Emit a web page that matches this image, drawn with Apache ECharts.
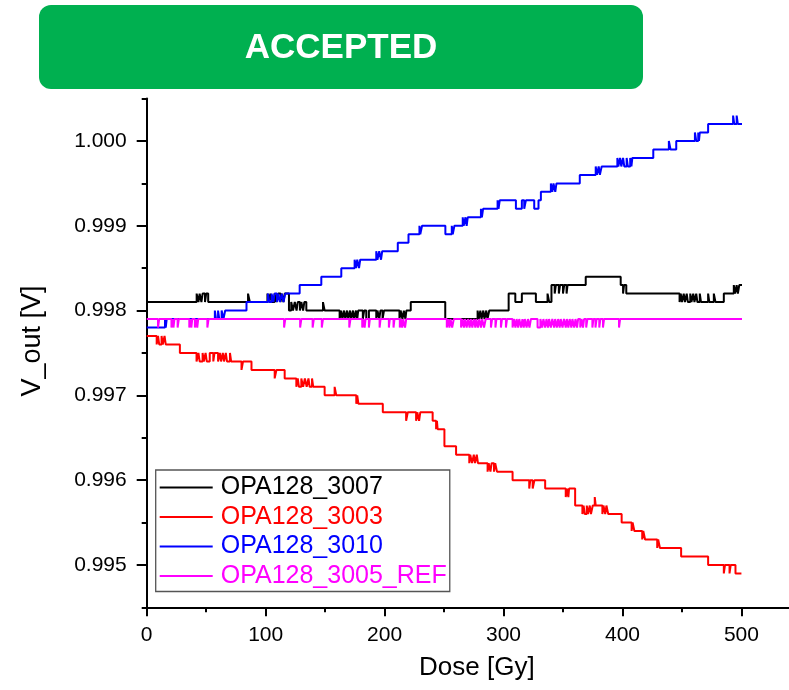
<!DOCTYPE html>
<html>
<head>
<meta charset="utf-8">
<script src="https://cdn.jsdelivr.net/npm/echarts@6/dist/echarts.min.js"></script>
<style>
  html, body { margin: 0; padding: 0; background: #ffffff; }
  #chart { width: 789px; height: 690px; }
</style>
</head>
<body>
<div id="chart"></div>
<script>
// Output voltage of four OPA128 samples versus accumulated dose.
const seriesNames = ['OPA128_3007', 'OPA128_3003', 'OPA128_3010', 'OPA128_3005_REF'];
const seriesColors = ['#000000', '#FF0000', '#0000FF', '#FF00FF'];

const doseTicks = [0, 100, 200, 300, 400, 500];
const doseMinorTicks = [50, 150, 250, 350, 450];
const voltTicks = [0.995, 0.996, 0.997, 0.998, 0.999, 1.000];
const voltMinorTicks = [0.9945, 0.9955, 0.9965, 0.9975, 0.9985, 0.9995, 1.0005];

// [dose (Gy), V_out (V)] — each point is where the reading changes level.
const opa3007 = [
  [0, .9981],
  [42, .9982], [43.5, .9981], [44.5, .9982], [46, .9981], [47, .9982], [49, .9981], [50, .9982], [51.7, .9981],
  [85.2, .9982], [86.7, .9981],
  [101.5, .9982], [102.5, .9981], [104, .9982], [105, .9981], [107.5, .9982], [109, .9981], [110.5, .9982],
  [112.5, .9981], [113.5, .9982], [115, .9981], [116, .9982], [119.6, .9980],
  [121.5, .9981], [123, .9980], [124.5, .9981], [126, .9980], [127, .9981], [128.8, .9980], [130, .9981],
  [131.5, .9980], [132.5, .9981], [134.2, .9980],
  [148.2, .9981], [149.6, .9980],
  [162.2, .9979], [163.5, .9980], [164.5, .9979], [166, .9980], [167, .9979], [168.5, .9980], [169.5, .9979],
  [171, .9980], [172, .9979], [173.5, .9980], [174.5, .9979], [176, .9980], [177, .9979], [177.8, .9980],
  [181.7, .9979], [182.8, .9980], [184.6, .9979], [186.8, .9980],
  [193, .9979], [194, .9980], [195.5, .9979], [196.5, .9980], [198.3, .9979], [199.5, .9980],
  [212.5, .9979], [213.5, .9980], [215, .9979], [216.2, .9980], [217.5, .9979], [218.3, .9980],
  [222, .9981],
  [251, .9979],
  [278.2, .9980], [279.2, .9979], [280.5, .9980], [281.5, .9979], [283, .9980], [284, .9979], [285.5, .9980],
  [286.5, .9979], [288, .9980],
  [304.3, .9982], [309.9, .9981], [315.4, .9982], [327.2, .9981], [337, .9982], [338.4, .9981], [340.3, .9983],
  [343, .9982], [344, .9983], [346.5, .9982], [347.5, .9983], [350, .9982], [351, .9983], [353, .9982], [353.8, .9983],
  [369.1, .9984], [398.5, .9983], [400.5, .9982], [401.3, .9983], [403.2, .9982],
  [448, .9981], [449, .9982], [450, .9981], [451.5, .9982], [452.5, .9981], [454, .9982], [455, .9981],
  [457, .9982], [458, .9981], [459.5, .9982], [460.5, .9981], [462, .9982], [463, .9981], [465, .9982], [466, .9981],
  [472, .9982], [473, .9981], [476.8, .9982], [478.2, .9981], [485.2, .9982],
  [493.6, .9983], [494.6, .9982], [496, .9983], [497, .9982], [498.2, .9983], [500.5, .9983]
];

const opa3003 = [
  [0, .9977],
  [8.4, .9976], [9.5, .9977], [10.5, .9976], [12.5, .9977], [13.5, .9976], [15, .9977], [16, .9976],
  [27.9, .9975],
  [41.9, .9974], [43.5, .9975], [44.5, .9974], [47, .9975], [48, .9974], [49.5, .9975], [50.5, .9974],
  [53, .9975], [56, .9974], [57, .9975], [60, .9974], [61.5, .9975], [62.5, .9974], [64, .9975], [65, .9974],
  [66.5, .9975], [67.5, .9974], [70, .9975], [71, .9974],
  [79.7, .9973], [81, .9974], [88.1, .9973], [107.6, .9972], [109.1, .9973], [116, .9972],
  [125.8, .9971], [127, .9972], [128, .9971], [130, .9972], [131.5, .9971], [133, .9972], [134.5, .9971],
  [136, .9972], [137, .9971], [139, .9972], [140, .9971],
  [149.6, .9970], [158, .9971], [159.4, .9970],
  [176.2, .9969], [177, .9970], [178, .9969],
  [198.5, .9968], [218.1, .9967], [219.5, .9968], [226.5, .9967], [227.5, .9968], [229, .9967], [230, .9968],
  [240.4, .9967], [243.3, .9966], [244, .9967], [244.6, .9966],
  [250.3, .9964], [260.1, .9963],
  [271.2, .9962], [272, .9963], [273.5, .9962], [275, .9963], [276, .9962], [277.5, .9963], [278.5, .9962],
  [286.6, .9961], [287.5, .9962], [289, .9961], [290, .9962], [292, .9961], [293, .9962], [294.5, .9961],
  [307.6, .9960], [321.6, .9959], [322.5, .9960], [324.5, .9959], [326, .9960],
  [335, .9959], [352.3, .9958], [353.5, .9959], [354.5, .9958], [355.1, .9959],
  [360.2, .9957],
  [366.3, .9956], [367.3, .9957], [368.3, .9956], [370, .9957], [371, .9956], [372.5, .9957], [373.5, .9956],
  [375, .9957], [376.7, .9958], [377.5, .9957],
  [383.1, .9956], [384, .9957], [385.5, .9956], [386.5, .9957], [388, .9956],
  [399.3, .9955],
  [407.7, .9954], [408.5, .9955], [410, .9954],
  [416.6, .9953], [417.5, .9954], [419, .9953],
  [429.2, .9952], [430, .9953], [431.5, .9952],
  [449.3, .9951], [472, .9950],
  [485.2, .9949], [486.2, .9950], [490, .9949], [491, .9950], [495, .9949], [500, .9949]
];

const opa3010 = [
  [0, .9978], [15.4, .9979], [16, .9978], [16.8, .9979],
  [57.3, .9980], [58.3, .9979], [60, .9980], [61, .9979], [63, .9980], [64.5, .9979], [66, .9980],
  [83.9, .9981],
  [102, .9982], [103, .9981], [105, .9982], [106.5, .9981], [107.5, .9982], [109.5, .9981], [110.5, .9982],
  [112, .9981], [113.5, .9982], [115, .9981], [116.5, .9982],
  [128.6, .9983], [146.8, .9984], [163.6, .9985],
  [174.8, .9986], [176, .9985], [177, .9986], [178.5, .9985], [179.5, .9986],
  [193, .9987], [194, .9986], [195.5, .9987], [197, .9986], [198, .9987],
  [211.1, .9988], [220.1, .9989],
  [229.3, .9990], [230, .9989], [231.5, .9990],
  [251.1, .9989], [256.5, .9990], [257.3, .9989], [258.7, .9990],
  [265.7, .9991], [266.5, .9990], [268, .9991], [269, .9990], [269.9, .9991],
  [281, .9992], [281.8, .9991], [282.8, .9992],
  [295, .9993], [295.8, .9992], [296.8, .9993],
  [310.4, .9992], [315.4, .9993], [317.4, .9992], [318.8, .9993], [325.8, .9992], [329.4, .9993], [331.4, .9994],
  [339.8, .9995], [341, .9994], [342, .9995], [343.5, .9994], [344.5, .9995],
  [364.1, .9996],
  [377.5, .9997], [378.5, .9996], [380, .9997], [381, .9996], [382.5, .9997],
  [395.7, .9998], [396.5, .9997], [398, .9998], [399, .9997], [400.5, .9998], [401.5, .9997], [403.5, .9998],
  [404.5, .9997], [406.5, .9998], [407.5, .9997], [408.3, .9998],
  [425.9, .9999], [439, 1.0000], [440.4, .9999], [445.2, 1.0000],
  [460.9, 1.0001], [462, 1.0000], [463.7, 1.0001], [464.3, 1.0000], [465, 1.0001],
  [472, 1.0002],
  [493, 1.0003], [494, 1.0002], [496, 1.0003], [497, 1.0002], [500.5, 1.0002]
];

const opa3005Ref = [
  [0, .9979],
  [9.5, .9978], [10.5, .9979],
  [20.8, .9978], [21.8, .9979], [22.5, .9978], [23.3, .9979],
  [26, .9978], [27, .9979],
  [35.8, .9978], [36.8, .9979], [37.5, .9978], [38.3, .9979],
  [40.5, .9978], [41.5, .9979], [42.5, .9978], [43.3, .9979],
  [51, .9978], [52, .9979],
  [115.5, .9978], [116.5, .9979],
  [129, .9978], [130, .9979],
  [139.5, .9978], [140.5, .9979],
  [147.2, .9978], [148.2, .9979],
  [170.3, .9978], [171.3, .9979],
  [181.2, .9978], [182, .9979], [183.2, .9978], [184, .9979],
  [186.8, .9978], [187.6, .9979],
  [195.8, .9978], [196.6, .9979],
  [203.6, .9978], [204.4, .9979],
  [207.5, .9978], [208.3, .9979],
  [212.8, .9978], [213.6, .9979], [214.8, .9978], [215.6, .9979], [217.2, .9978], [218.2, .9979],
  [252.3, .9978], [253.5, .9979], [254.5, .9978], [255.4, .9979], [256.8, .9978], [258.2, .9979],
  [264.3, .9978], [265.4, .9979], [266.7, .9978], [267.6, .9979], [269, .9978], [270.1, .9979],
  [271.5, .9978], [272.4, .9979], [273.8, .9978], [274.9, .9979], [276.3, .9978], [277.1, .9979],
  [278.5, .9978], [279.6, .9979], [281, .9978], [282, .9979], [283.6, .9978], [285, .9979],
  [289.4, .9978], [290.4, .9979], [293.2, .9978], [294, .9979],
  [297.8, .9978], [298.7, .9979],
  [302, .9978], [302.9, .9979],
  [307.6, .9978], [308.7, .9979], [310, .9978], [311, .9979], [312.3, .9978], [313.2, .9979],
  [314.8, .9978], [315.9, .9979], [317, .9978], [317.9, .9979], [319.4, .9978], [320.5, .9979],
  [321.8, .9978], [323, .9979],
  [328.6, .9978], [331, .9979], [332.5, .9978], [333.5, .9979], [335, .9978], [336.1, .9979],
  [337.4, .9978], [338.3, .9979], [339.8, .9978], [341, .9979], [342.5, .9978], [343.4, .9979],
  [344.8, .9978], [345.9, .9979], [347.2, .9978], [348.1, .9979], [349.6, .9978], [350.8, .9979],
  [352.3, .9978], [353.2, .9979], [354.5, .9978], [355.6, .9979], [357, .9978], [357.9, .9979],
  [359.4, .9978], [360.5, .9979], [361.8, .9978], [362.7, .9979], [364.5, .9978], [365.6, .9979],
  [366.8, .9978], [367.7, .9979], [369.5, .9978], [370.5, .9979],
  [374.7, .9978], [375.6, .9979], [377.3, .9978], [378.2, .9979], [380.5, .9978], [381.4, .9979],
  [383.6, .9978], [384.5, .9979],
  [397.1, .9978], [398, .9979],
  [500.5, .9979]
];

const seriesData = [opa3007, opa3003, opa3010, opa3005Ref];

const FONT = '"Liberation Sans", Arial, Helvetica, sans-serif';

const chart = echarts.init(document.getElementById('chart'), null, { renderer: 'canvas' });

const axisBlack = { color: '#000000', width: 2 };

chart.setOption({
  animation: false,
  backgroundColor: '#ffffff',
  textStyle: { fontFamily: FONT },
  graphic: [
    {
      type: 'rect',
      shape: { x: 39, y: 5, width: 604, height: 84, r: 12 },
      style: { fill: '#00B050' },
      z: 10
    },
    {
      type: 'text',
      x: 341,
      y: 48,
      style: {
        text: 'ACCEPTED',
        fill: '#ffffff',
        font: 'bold 35px ' + FONT,
        align: 'center',
        verticalAlign: 'middle',
        textAlign: 'center',
        textVerticalAlign: 'middle'
      },
      z: 11
    }
  ],
  grid: {
    left: 146.7,
    top: 98.6,
    width: 643.7,
    height: 508.7,
    containLabel: false
  },
  xAxis: [
    {
      type: 'value',
      min: 0,
      max: 540,
      position: 'bottom',
      axisLine: { show: true, onZero: false, lineStyle: axisBlack },
      axisTick: { show: true, length: 9, lineStyle: axisBlack, customValues: doseTicks },
      axisLabel: {
        customValues: doseTicks,
        fontSize: 21, color: '#000000', fontFamily: FONT, margin: 17
      },
      splitLine: { show: false },
      name: 'Dose [Gy]',
      nameLocation: 'middle',
      nameGap: 48,
      nameTextStyle: { fontSize: 26, color: '#000000', fontFamily: FONT, padding: [0, 0, 0, 18] }
    },
    {
      type: 'value',
      min: 0,
      max: 540,
      position: 'bottom',
      axisLine: { show: false },
      axisTick: { show: true, length: 5, lineStyle: axisBlack, customValues: doseMinorTicks },
      axisLabel: { show: false },
      splitLine: { show: false }
    }
  ],
  yAxis: [
    {
      type: 'value',
      min: 0.9945,
      max: 1.0005,
      position: 'left',
      axisLine: { show: true, onZero: false, lineStyle: axisBlack },
      axisTick: { show: true, length: 10, lineStyle: axisBlack, customValues: voltTicks },
      axisLabel: {
        customValues: voltTicks,
        formatter: (v) => v.toFixed(3),
        fontSize: 21, color: '#000000', fontFamily: FONT, margin: 20
      },
      splitLine: { show: false },
      name: 'V_out [V]',
      nameLocation: 'middle',
      nameGap: 101,
      nameTextStyle: { fontSize: 27, color: '#000000', fontFamily: FONT, padding: [0, 0, 0, 24] }
    },
    {
      type: 'value',
      min: 0.9945,
      max: 1.0005,
      position: 'left',
      axisLine: { show: false },
      axisTick: { show: true, length: 5, lineStyle: axisBlack, customValues: voltMinorTicks },
      axisLabel: { show: false },
      splitLine: { show: false }
    }
  ],
  legend: {
    orient: 'vertical',
    left: 155.7,
    top: 470,
    padding: [5, 3, 3, 4],
    icon: 'rect',
    itemWidth: 53,
    itemHeight: 2,
    itemGap: 4.5,
    backgroundColor: '#ffffff',
    borderColor: '#555555',
    borderWidth: 1.3,
    borderRadius: 0,
    selectedMode: false,
    textStyle: { fontSize: 25, lineHeight: 24, fontFamily: FONT, padding: [0, 0, 0, 3] },
    data: seriesNames.map((name, i) => ({
      name,
      itemStyle: { color: seriesColors[i] },
      textStyle: { color: seriesColors[i] }
    }))
  },
  series: seriesNames.map((name, i) => ({
    name,
    type: 'line',
    xAxisIndex: 0,
    yAxisIndex: 0,
    data: seriesData[i],
    step: 'end',
    symbol: 'none',
    showSymbol: false,
    clip: true,
    lineStyle: { color: seriesColors[i], width: 2 },
    itemStyle: { color: seriesColors[i] },
    emphasis: { disabled: true },
    z: 2 + i
  }))
});
</script>
</body>
</html>
